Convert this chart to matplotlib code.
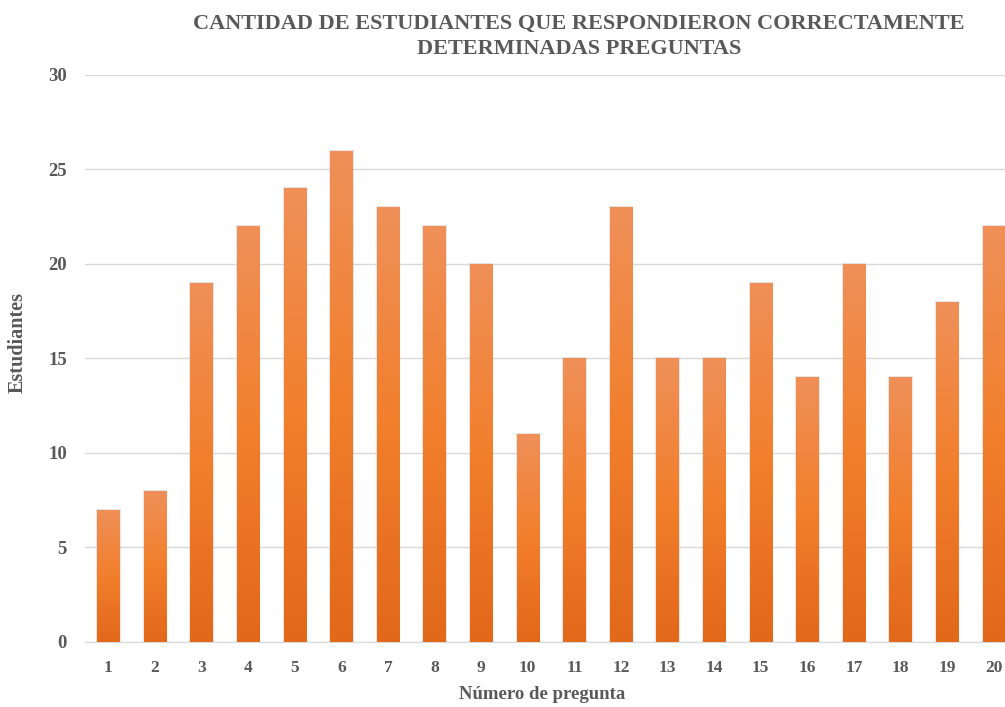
import numpy as np
import matplotlib
matplotlib.use('Agg')
import matplotlib.pyplot as plt
from matplotlib.colors import LinearSegmentedColormap
from matplotlib.patches import Rectangle

preguntas = [str(i) for i in range(1, 21)]
estudiantes = [7, 8, 19, 22, 24, 26, 23, 22, 20, 11, 15, 23, 15, 15, 19, 14, 20, 14, 18, 22]

gris = '#595959'
plt.rcParams['font.family'] = ['Liberation Serif', 'DejaVu Serif']
plt.rcParams['font.weight'] = 'bold'

fig = plt.figure(figsize=(10.05, 7.07), dpi=100)
ax = fig.add_axes([0.0846, 0.092, 0.9274, 0.802])

x = np.arange(len(estudiantes))
bars = ax.bar(x, estudiantes, width=0.48, color='none', zorder=3)

# degradado vertical de cada barra
grad = LinearSegmentedColormap.from_list('naranja', ['#e2681a', '#f27f2c', '#ef9058'])
for b in bars:
    x0, w, h = b.get_x(), b.get_width(), b.get_height()
    sombra = Rectangle((x0, 0), w, h, facecolor='none', edgecolor='#c8c8c8',
                       linewidth=1.6, alpha=0.45, zorder=2)
    ax.add_patch(sombra)
    img = ax.imshow(np.linspace(0, 1, 256).reshape(-1, 1), cmap=grad, origin='lower',
                    extent=[x0, x0 + w, 0, h], aspect='auto', zorder=3)
    img.set_clip_path(b)

ax.set_xlim(-0.5, len(estudiantes) - 0.5)
ax.set_ylim(0, 30)
ax.set_yticks(range(0, 31, 5))
ax.set_xticks(x)
ax.set_xticklabels(preguntas)
ax.yaxis.grid(True, color='#d9d9d9', linewidth=1, zorder=0)
for s in ['top', 'right', 'left']:
    ax.spines[s].set_visible(False)
ax.spines['bottom'].set_color('#d9d9d9')
ax.tick_params(length=0, colors=gris)
ax.tick_params(axis='x', labelsize=12.5, pad=13)
ax.tick_params(axis='y', labelsize=13.5, pad=13)

fig.text(0.576, 0.949, 'CANTIDAD DE ESTUDIANTES QUE RESPONDIERON CORRECTAMENTE\nDETERMINADAS PREGUNTAS',
         ha='center', va='center', fontsize=16, color=gris, linespacing=1.35)
fig.text(0.539, 0.017, 'Número de pregunta', ha='center', va='center', fontsize=13.5, color=gris)
fig.text(0.018, 0.515, 'Estudiantes', ha='center', va='center', rotation=90, fontsize=14.5, color=gris)

fig.savefig('out.png', dpi=100)
